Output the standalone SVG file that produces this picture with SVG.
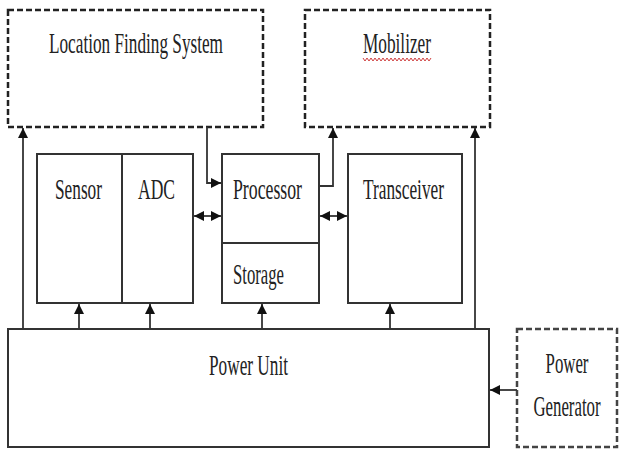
<svg xmlns="http://www.w3.org/2000/svg" width="621" height="452" viewBox="0 0 621 452">
<defs>
<marker id="ah" viewBox="0 0 10 10" refX="10" refY="5" markerWidth="11" markerHeight="10" markerUnits="userSpaceOnUse" orient="auto-start-reverse">
<path d="M0,0 L10,5 L0,10 Z" fill="#111"/>
</marker>
<style>
.box{fill:#fff;stroke:#333;stroke-width:2}
.dash{fill:#fff;stroke:#222;stroke-width:2.5;stroke-dasharray:6 3}
.ln{fill:none;stroke:#333;stroke-width:1.8}
.t{font-family:"Liberation Serif","Times New Roman",serif;font-size:30px;fill:#222;text-anchor:start}
.tm{font-family:"Liberation Serif","Times New Roman",serif;font-size:30px;fill:#222;text-anchor:middle}
</style>
</defs>
<rect width="621" height="452" fill="#fff"/>
<g id="lfs">
<rect class="dash" x="8" y="10" width="255" height="117"/>
<text class="t" x="49" y="53" textLength="174" lengthAdjust="spacingAndGlyphs">Location Finding System</text>
</g>
<g id="mobilizer">
<rect class="dash" x="305" y="10" width="185" height="117"/>
<text class="t" x="363" y="53" textLength="68" lengthAdjust="spacingAndGlyphs">Mobilizer</text>
<polyline fill="none" stroke="#d04040" stroke-width="1" points="363,58 365,61 367,58 369,61 371,58 373,61 375,58 377,61 379,58 381,61 383,58 385,61 387,58 389,61 391,58 393,61 395,58 397,61 399,58 401,61 403,58 405,61 407,58 409,61 411,58 413,61 415,58 417,61 419,58 421,61 423,58 425,61 427,58 429,61 431,58"/>
</g>
<g id="sensor">
<rect class="box" x="37" y="154" width="85" height="149"/>
<text class="t" x="55" y="199" textLength="47" lengthAdjust="spacingAndGlyphs">Sensor</text>
</g>
<g id="adc">
<rect class="box" x="122" y="154" width="71" height="149"/>
<text class="t" x="138" y="199" textLength="37" lengthAdjust="spacingAndGlyphs">ADC</text>
</g>
<g id="processor">
<rect class="box" x="222" y="154" width="97" height="89"/>
<text class="t" x="233" y="199" textLength="69" lengthAdjust="spacingAndGlyphs">Processor</text>
</g>
<g id="storage">
<rect class="box" x="222" y="243" width="97" height="60"/>
<text class="t" x="233" y="284" textLength="51" lengthAdjust="spacingAndGlyphs">Storage</text>
</g>
<g id="transceiver">
<rect class="box" x="348" y="154" width="114" height="149"/>
<text class="t" x="363" y="199" textLength="81" lengthAdjust="spacingAndGlyphs">Transceiver</text>
</g>
<g id="power-unit">
<rect class="box" x="8" y="329" width="481" height="118"/>
<text class="t" x="209" y="375" textLength="79" lengthAdjust="spacingAndGlyphs">Power Unit</text>
</g>
<g id="power-generator">
<rect class="dash" x="517" y="329" width="100" height="118" style="stroke:#444"/>
<text class="tm" transform="translate(567,373) scale(0.56,1)">Power</text>
<text class="tm" transform="translate(567,416) scale(0.56,1)">Generator</text>
</g>
<g id="connectors">
<line class="ln" x1="23" y1="329" x2="23" y2="128" marker-end="url(#ah)"/>
<line class="ln" x1="475" y1="329" x2="475" y2="128" marker-end="url(#ah)"/>
<polyline class="ln" points="207,127 207,183 221,183" marker-end="url(#ah)"/>
<polyline class="ln" points="319,186 333,186 333,128" marker-end="url(#ah)"/>
<line class="ln" x1="194" y1="216" x2="221" y2="216" marker-start="url(#ah)" marker-end="url(#ah)"/>
<line class="ln" x1="320" y1="216" x2="347" y2="216" marker-start="url(#ah)" marker-end="url(#ah)"/>
<line class="ln" x1="79" y1="329" x2="79" y2="304" marker-end="url(#ah)"/>
<line class="ln" x1="150" y1="329" x2="150" y2="304" marker-end="url(#ah)"/>
<line class="ln" x1="262" y1="329" x2="262" y2="304" marker-end="url(#ah)"/>
<line class="ln" x1="390" y1="329" x2="390" y2="304" marker-end="url(#ah)"/>
<line class="ln" x1="517" y1="390" x2="490" y2="390" marker-end="url(#ah)"/>
</g>
</svg>
